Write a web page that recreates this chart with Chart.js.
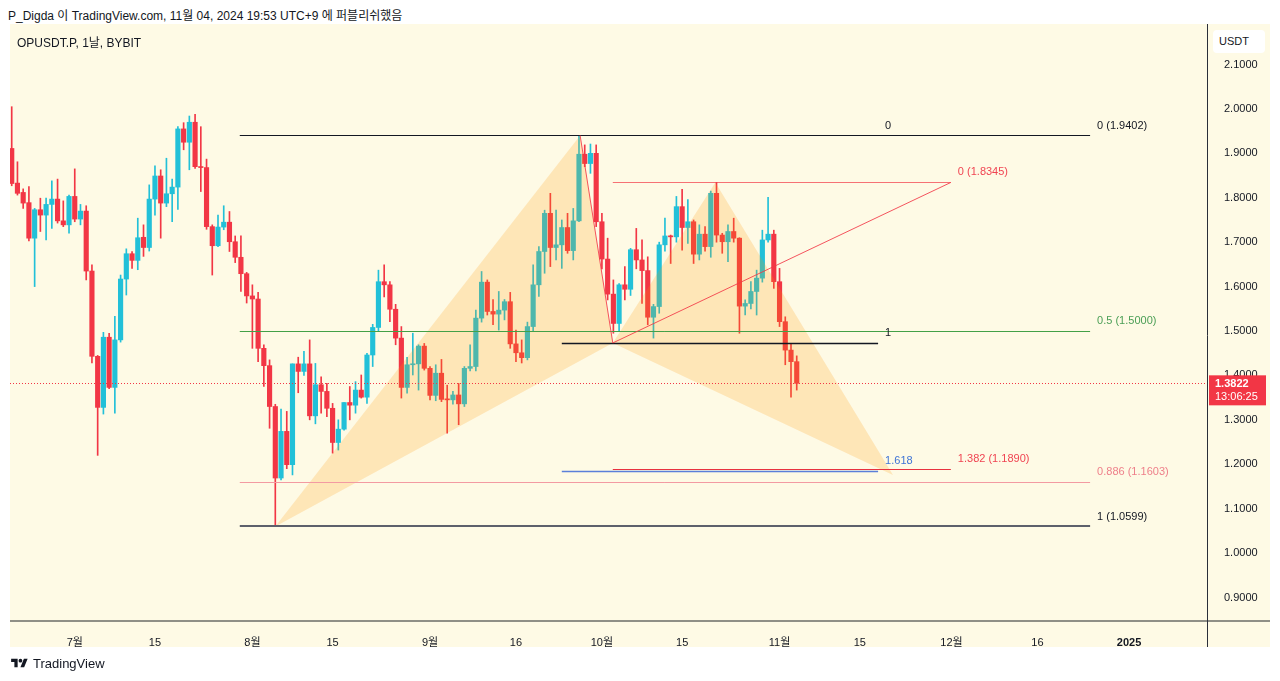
<!DOCTYPE html>
<html>
<head>
<meta charset="utf-8">
<script src="https://cdn.jsdelivr.net/npm/chart.js@4.4.1/dist/chart.umd.min.js"></script>
<style>
  body { margin: 0; width: 1280px; height: 681px; background: #fff; position: relative; overflow: hidden;
         font-family: 'Liberation Sans', 'Noto Sans CJK KR', sans-serif; color: #131722; }
  #hdr { position: absolute; left: 8px; top: 6px; font-size: 12px; }
  #frame { position: absolute; left: 10px; top: 24px; width: 1260px; height: 623px; background: #fefae5; }
  #c { position: absolute; left: 0; top: 0; }
  #title { position: absolute; left: 17px; top: 33px; font-size: 12px; }
  #usdt { position: absolute; left: 1213px; top: 30px; width: 52px; height: 23px; background: #fff; border-radius: 4px;
          font-size: 11px; line-height: 23px; padding-left: 6px; box-sizing: border-box; }
  #logo { position: absolute; left: 10px; top: 656px; font-size: 13px; display: flex; align-items: center; gap: 4px; }
</style>
</head>
<body>
<div id="hdr">P_Digda 이 TradingView.com, 11월 04, 2024 19:53 UTC+9 에 퍼블리쉬했음</div>
<div id="frame"></div>
<canvas id="c" width="1280" height="681"></canvas>
<div id="title">OPUSDT.P, 1날, BYBIT</div>
<div id="usdt">USDT</div>
<div id="logo"><svg width="19" height="13" viewBox="0 0 36 28"><path d="M14 22H7V11H0V4h14v18zM28 22h-8l7.5-18h8L28 22z" fill="#131722"/><circle cx="20" cy="8" r="4" fill="#131722"/></svg>TradingView</div>
<script>
// OPUSDT.P, 1D, index 0 = 2024-06-20
const opens = [
  1.911, 1.833, 1.812, 1.789, 1.709, 1.773, 1.761, 1.785, 1.797, 1.748,
  1.739, 1.803, 1.752, 1.770, 1.635, 1.443, 1.328, 1.486, 1.373, 1.480,
  1.617, 1.674, 1.659, 1.711, 1.688, 1.797, 1.849, 1.788, 1.809, 1.824,
  1.955, 1.925, 1.970, 1.870, 1.868, 1.735, 1.692, 1.734, 1.745, 1.701,
  1.666, 1.629, 1.579, 1.572, 1.461, 1.422, 1.330, 1.169, 1.274, 1.199,
  1.426, 1.409, 1.426, 1.309, 1.379, 1.364, 1.326, 1.249, 1.279, 1.339,
  1.333, 1.367, 1.351, 1.446, 1.508, 1.611, 1.604, 1.549, 1.484, 1.373,
  1.424, 1.426, 1.466, 1.416, 1.355, 1.405, 1.346, 1.345, 1.356, 1.336,
  1.416, 1.420, 1.529, 1.610, 1.544, 1.538, 1.547, 1.566, 1.471, 1.451,
  1.440, 1.510, 1.604, 1.679, 1.765, 1.688, 1.694, 1.733, 1.681, 1.748,
  1.898, 1.877, 1.900, 1.746, 1.662, 1.583, 1.517, 1.604, 1.594, 1.683,
  1.660, 1.636, 1.531, 1.555, 1.694, 1.714, 1.712, 1.780, 1.733, 1.746,
  1.673, 1.718, 1.690, 1.810, 1.716, 1.701, 1.724, 1.709, 1.556, 1.562,
  1.589, 1.619, 1.705, 1.718, 1.611, 1.521, 1.457, 1.431
];
const highs = [
  2.005, 1.881, 1.820, 1.825, 1.776, 1.799, 1.799, 1.838, 1.842, 1.793,
  1.806, 1.865, 1.785, 1.782, 1.649, 1.445, 1.497, 1.495, 1.533, 1.626,
  1.685, 1.679, 1.754, 1.739, 1.829, 1.872, 1.863, 1.889, 1.842, 1.960,
  1.969, 1.984, 1.988, 1.960, 1.887, 1.739, 1.761, 1.782, 1.769, 1.714,
  1.714, 1.632, 1.604, 1.587, 1.469, 1.435, 1.335, 1.324, 1.319, 1.426,
  1.441, 1.454, 1.480, 1.427, 1.397, 1.382, 1.337, 1.300, 1.339, 1.375,
  1.386, 1.401, 1.450, 1.515, 1.637, 1.649, 1.611, 1.560, 1.510, 1.441,
  1.495, 1.469, 1.472, 1.420, 1.424, 1.436, 1.378, 1.364, 1.382, 1.420,
  1.469, 1.547, 1.634, 1.615, 1.571, 1.589, 1.571, 1.587, 1.502, 1.480,
  1.520, 1.649, 1.690, 1.772, 1.810, 1.772, 1.750, 1.765, 1.776, 1.9402,
  1.919, 1.921, 1.919, 1.765, 1.709, 1.615, 1.607, 1.645, 1.686, 1.731,
  1.705, 1.667, 1.560, 1.700, 1.754, 1.716, 1.803, 1.819, 1.796, 1.750,
  1.739, 1.735, 1.815, 1.8345, 1.720, 1.739, 1.754, 1.710, 1.570, 1.611,
  1.637, 1.727, 1.801, 1.727, 1.641, 1.532, 1.472, 1.444
];
const lows = [
  1.827, 1.806, 1.776, 1.703, 1.600, 1.724, 1.705, 1.731, 1.743, 1.735,
  1.720, 1.746, 1.739, 1.615, 1.428, 1.220, 1.313, 1.370, 1.315, 1.475,
  1.581, 1.641, 1.638, 1.668, 1.680, 1.761, 1.709, 1.780, 1.746, 1.774,
  1.908, 1.863, 1.866, 1.814, 1.729, 1.626, 1.690, 1.728, 1.679, 1.654,
  1.589, 1.563, 1.461, 1.431, 1.375, 1.281, 1.0599, 1.165, 1.190, 1.176,
  1.361, 1.400, 1.300, 1.291, 1.315, 1.307, 1.225, 1.232, 1.277, 1.300,
  1.315, 1.349, 1.337, 1.420, 1.500, 1.577, 1.521, 1.469, 1.349, 1.360,
  1.401, 1.367, 1.412, 1.345, 1.343, 1.341, 1.270, 1.335, 1.289, 1.330,
  1.410, 1.410, 1.520, 1.536, 1.514, 1.502, 1.525, 1.461, 1.431, 1.428,
  1.435, 1.500, 1.578, 1.630, 1.645, 1.660, 1.641, 1.675, 1.660, 1.746,
  1.870, 1.855, 1.735, 1.640, 1.570, 1.495, 1.500, 1.570, 1.580, 1.640,
  1.562, 1.514, 1.484, 1.540, 1.680, 1.652, 1.700, 1.682, 1.697, 1.652,
  1.660, 1.680, 1.666, 1.700, 1.675, 1.656, 1.700, 1.495, 1.536, 1.550,
  1.536, 1.610, 1.700, 1.596, 1.510, 1.424, 1.351, 1.367
];
const closes = [
  1.832, 1.810, 1.788, 1.709, 1.773, 1.761, 1.785, 1.797, 1.748, 1.739,
  1.803, 1.752, 1.770, 1.635, 1.443, 1.328, 1.486, 1.373, 1.480, 1.617,
  1.674, 1.659, 1.710, 1.688, 1.797, 1.849, 1.788, 1.809, 1.824, 1.955,
  1.925, 1.970, 1.870, 1.868, 1.735, 1.692, 1.734, 1.745, 1.701, 1.666,
  1.629, 1.579, 1.572, 1.461, 1.422, 1.330, 1.169, 1.274, 1.199, 1.426,
  1.409, 1.426, 1.309, 1.379, 1.364, 1.326, 1.249, 1.279, 1.339, 1.333,
  1.367, 1.351, 1.446, 1.508, 1.611, 1.604, 1.549, 1.484, 1.373, 1.424,
  1.426, 1.466, 1.416, 1.355, 1.405, 1.346, 1.345, 1.356, 1.336, 1.416,
  1.420, 1.529, 1.610, 1.544, 1.538, 1.547, 1.566, 1.471, 1.451, 1.440,
  1.510, 1.604, 1.679, 1.765, 1.688, 1.694, 1.733, 1.681, 1.748, 1.898,
  1.877, 1.900, 1.746, 1.662, 1.583, 1.517, 1.604, 1.594, 1.683, 1.660,
  1.636, 1.531, 1.555, 1.694, 1.714, 1.712, 1.780, 1.733, 1.746, 1.673,
  1.718, 1.690, 1.810, 1.716, 1.701, 1.724, 1.709, 1.556, 1.562, 1.589,
  1.619, 1.705, 1.718, 1.611, 1.521, 1.457, 1.431, 1.3822
];

// axes
const priceTicks = [0.9, 1.0, 1.1, 1.2, 1.3, 1.4, 1.5, 1.6, 1.7, 1.8, 1.9, 2.0, 2.1];
const dateTickIdx = [11, 25, 42, 56, 73, 88, 103, 117, 134, 148, 164, 179, 195];
const dateTickLabels = ['7월', '15', '8월', '15', '9월', '16', '10월', '15', '11월', '15', '12월', '16', '2025'];

// fib retracement (index, price)
const fibX = [39.8, 188.2];
const fibLevelPrices = [1.9402, 1.5000, 1.1603, 1.0599];
const fibLevelText = ['0 (1.9402)', '0.5 (1.5000)', '0.886 (1.1603)', '1 (1.0599)'];
const fibColors = ['#131722', '#43a047', '#f39aa2', '#5d606b'];
const fibTextColors = ['#131722', '#4a9e55', '#ee7f8a', '#131722'];

// second fib, labels only
const fib2X = [96.0, 151.2];
const fib2Prices = [1.9402, 1.4731, 1.1845];
const fib2Text = ['0', '1', '1.618'];
const fib2Colors = ['#131722', '#131722', '#5b7fd9'];
const fib2TextColors = ['#131722', '#131722', '#3f74d6'];

// trend-based fib extension: 3 points
const extPointX = [99.2, 104.9, 163.9];
const extPointPrice = [1.9402, 1.4731, 1.8345];
const extLevelPrices = [1.8345, 1.1890];
const extLevelText = ['0 (1.8345)', '1.382 (1.1890)'];

// XABCD pattern
const patX = [46, 99.2, 104.9, 122.8, 153.8];
const patPrice = [1.0599, 1.9402, 1.4731, 1.8345, 1.176];

const lastPrice = closes[closes.length - 1];
const countdown = '13:06:25';

const UP = '#22c0d8';
const DOWN = '#f23645';

const bodies = opens.map((o, i) => ({ x: i, y: [o, closes[i]] }));
const wicks = opens.map((o, i) => ({ x: i, y: [lows[i], highs[i]] }));
const candleColors = opens.map((o, i) => closes[i] >= o ? UP : DOWN);

const drawings = {
    id: 'drawings',
    afterDatasetsDraw(chart) {
        const { ctx, chartArea: a, scales } = chart;
        const X = v => scales.x.getPixelForValue(v);
        const Y = p => scales.y.getPixelForValue(p);
        ctx.save();
        ctx.beginPath();
        ctx.rect(a.left, a.top, a.right - a.left, a.bottom - a.top);
        ctx.clip();

        // pattern fills
        ctx.fillStyle = 'rgba(255, 152, 0, 0.2)';
        [[0, 1, 2], [2, 3, 4]].forEach(tri => {
            ctx.beginPath();
            tri.forEach((k, j) => {
                if (j === 0) ctx.moveTo(X(patX[k]), Y(patPrice[k]));
                else ctx.lineTo(X(patX[k]), Y(patPrice[k]));
            });
            ctx.closePath();
            ctx.fill();
        });

        const hline = (x1, x2, p, color, w) => {
            ctx.beginPath();
            ctx.strokeStyle = color;
            ctx.lineWidth = w;
            const yy = Math.round(Y(p)) + (w % 2 ? 0.5 : 0);
            ctx.moveTo(X(x1), yy);
            ctx.lineTo(X(x2), yy);
            ctx.stroke();
        };
        const label = (str, x2, p, color) => {
            ctx.fillStyle = color;
            ctx.font = '11px "Liberation Sans", sans-serif';
            ctx.textAlign = 'left';
            ctx.textBaseline = 'middle';
            ctx.fillText(str, X(x2) + 7, Y(p) - 10);
        };

        // fib retracement
        fibLevelPrices.forEach((p, k) => {
            hline(fibX[0], fibX[1], p, fibColors[k], k === 3 ? 2 : 1);
            label(fibLevelText[k], fibX[1], p, fibTextColors[k]);
        });

        // second fib
        fib2Prices.forEach((p, k) => {
            hline(fib2X[0], fib2X[1], p, fib2Colors[k], k === 0 ? 1 : 1.5);
            label(fib2Text[k], fib2X[1], p, fib2TextColors[k]);
        });

        // fib extension
        ctx.beginPath();
        ctx.strokeStyle = 'rgba(242, 54, 69, 0.85)';
        ctx.lineWidth = 1;
        extPointX.forEach((v, k) => {
            if (k === 0) ctx.moveTo(X(v), Y(extPointPrice[k]));
            else ctx.lineTo(X(v), Y(extPointPrice[k]));
        });
        ctx.stroke();
        extLevelPrices.forEach((p, k) => {
            hline(extPointX[1], extPointX[2], p, k === 0 ? 'rgba(242, 54, 69, 0.7)' : '#e8313f', 1);
            label(extLevelText[k], extPointX[2], p, '#f04452');
        });

        // last price line
        ctx.beginPath();
        ctx.setLineDash([1, 2]);
        ctx.strokeStyle = DOWN;
        ctx.lineWidth = 1;
        const ly = Math.round(Y(lastPrice)) + 0.5;
        ctx.moveTo(a.left, ly);
        ctx.lineTo(a.right, ly);
        ctx.stroke();
        ctx.restore();
    },
    afterDraw(chart) {
        const { ctx, chartArea: a, scales } = chart;
        ctx.save();
        // frame
        ctx.strokeStyle = '#8f8f86';
        ctx.lineWidth = 2;
        ctx.beginPath();
        ctx.moveTo(10, a.bottom);
        ctx.lineTo(1270, a.bottom);
        ctx.stroke();
        ctx.strokeStyle = '#2a2e39';
        ctx.lineWidth = 1;
        ctx.beginPath();
        ctx.moveTo(a.right + 0.5, a.top);
        ctx.lineTo(a.right + 0.5, a.bottom + 26);
        ctx.stroke();
        // last price box
        const y = scales.y.getPixelForValue(lastPrice);
        ctx.fillStyle = DOWN;
        ctx.fillRect(a.right + 2, y - 8, 57, 30);
        ctx.fillStyle = '#fff';
        ctx.textAlign = 'left';
        ctx.textBaseline = 'middle';
        ctx.font = 'bold 11px "Liberation Sans", sans-serif';
        ctx.fillText(lastPrice.toFixed(4), a.right + 8, y + 1);
        ctx.font = '11px "Liberation Sans", sans-serif';
        ctx.fillText(countdown, a.right + 8, y + 14);
        ctx.restore();
    }
};

Chart.defaults.font.family = "'Liberation Sans', 'Noto Sans CJK KR', sans-serif";
Chart.defaults.font.size = 11;
Chart.defaults.color = '#131722';

new Chart(document.getElementById('c'), {
    type: 'bar',
    data: {
        datasets: [
            {
                data: bodies,
                backgroundColor: candleColors,
                barThickness: 4.5,
                minBarLength: 1,
                grouped: false
            },
            {
                data: wicks,
                backgroundColor: candleColors,
                barThickness: 1,
                grouped: false
            }
        ]
    },
    options: {
        responsive: false,
        animation: false,
        layout: { padding: { left: 10, top: 24, right: 10, bottom: 34 } },
        plugins: { legend: { display: false }, tooltip: { enabled: false } },
        scales: {
            x: {
                type: 'linear',
                offset: false,
                min: -0.3,
                max: 208.6,
                grid: { display: false },
                border: { display: false },
                afterFit: s => { s.height = 26; },
                afterBuildTicks: s => { s.ticks = dateTickIdx.map(v => ({ value: v })); },
                ticks: {
                    autoSkip: false,
                    maxRotation: 0,
                    padding: 7,
                    callback: (v, i) => dateTickLabels[i],
                    font: c => ({ size: 11, weight: c.index === dateTickLabels.length - 1 ? 'bold' : 'normal' })
                }
            },
            y: {
                type: 'linear',
                position: 'right',
                min: 0.8471,
                max: 2.1912,
                grid: { display: false },
                border: { display: false },
                afterFit: s => { s.width = 63; },
                afterBuildTicks: s => { s.ticks = priceTicks.map(v => ({ value: v })); },
                ticks: {
                    padding: 9,
                    callback: v => v.toFixed(4)
                }
            }
        }
    },
    plugins: [drawings]
});
</script>
</body>
</html>
